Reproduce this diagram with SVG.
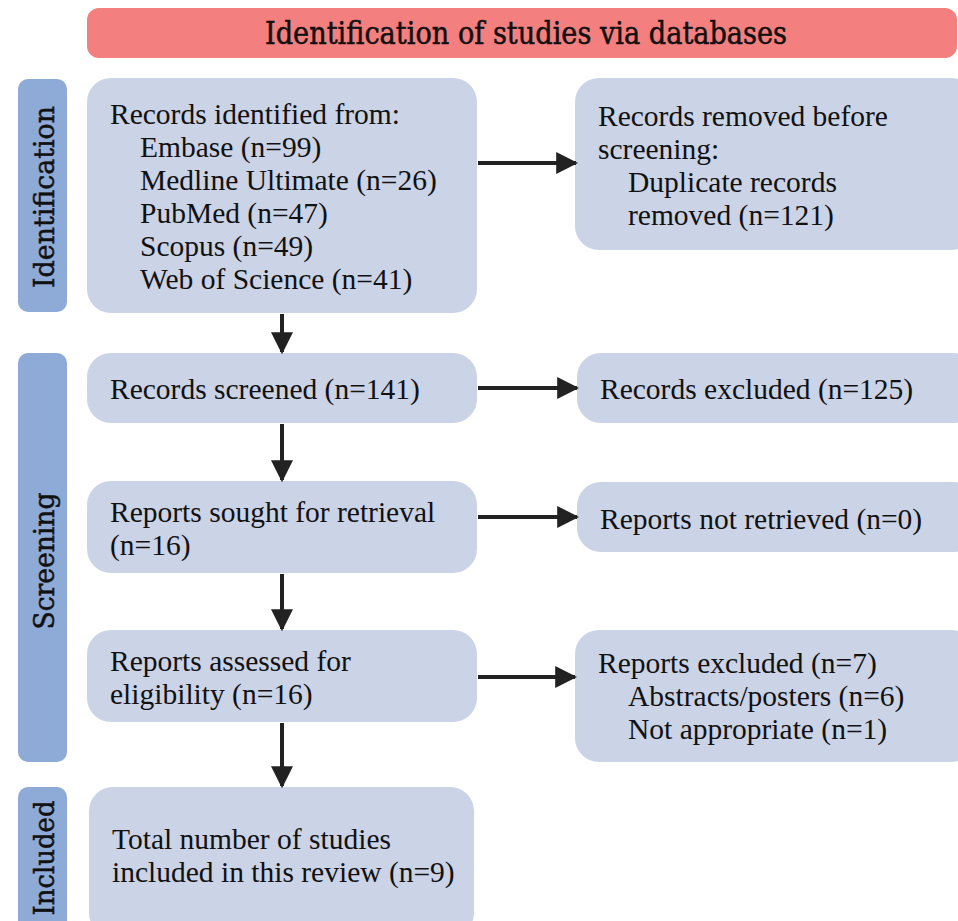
<svg xmlns="http://www.w3.org/2000/svg" width="958" height="921" viewBox="0 0 958 921">
<defs>
<style>
.box{fill:#cbd3e7}
.side{fill:#8eaad6}
.t{font-family:"Liberation Serif","Times New Roman",serif;font-size:29.5px;fill:#111}
.s{font-family:"DejaVu Serif",serif;font-size:27px;fill:#111;stroke:#111;stroke-width:0.5px}
.c{stroke:#222;stroke-width:4;fill:none;marker-end:url(#ah)}
</style>
<marker id="ah" viewBox="0 0 10 10" refX="9" refY="5" markerWidth="5.5" markerHeight="5.5" orient="auto" markerUnits="strokeWidth">
<path d="M0,0 L10,5 L0,10 z" fill="#222"/>
</marker>
</defs>
<rect width="958" height="921" fill="#fff"/>
<g id="header">
<rect x="87" y="8" width="870" height="50" rx="12" fill="#f47f7f"/>
<text x="526" y="44" text-anchor="middle" font-family="DejaVu Serif Condensed,DejaVu Serif,serif" font-stretch="condensed" font-size="31" textLength="522" lengthAdjust="spacingAndGlyphs" fill="#111" stroke="#111" stroke-width="0.5">Identification of studies via databases</text>
</g>
<g id="side-identification">
<rect class="side" x="18" y="79" width="49" height="233" rx="10"/>
<text class="s" transform="translate(54,197) rotate(-90)" text-anchor="middle" textLength="182" lengthAdjust="spacingAndGlyphs">Identification</text>
</g>
<g id="side-screening">
<rect class="side" x="18" y="353" width="49" height="409" rx="10"/>
<text class="s" transform="translate(54,561) rotate(-90)" text-anchor="middle" textLength="137" lengthAdjust="spacingAndGlyphs">Screening</text>
</g>
<g id="side-included">
<rect class="side" x="18" y="787" width="49" height="150" rx="10"/>
<text class="s" transform="translate(54,858) rotate(-90)" text-anchor="middle" textLength="115" lengthAdjust="spacingAndGlyphs">Included</text>
</g>
<g id="records-identified">
<rect class="box" x="87" y="78" width="390" height="235" rx="24"/>
<text class="t" x="110" y="124">Records identified from:</text>
<text class="t" x="140" y="157">Embase (n=99)</text>
<text class="t" x="140" y="190">Medline Ultimate (n=26)</text>
<text class="t" x="140" y="223">PubMed (n=47)</text>
<text class="t" x="140" y="256">Scopus (n=49)</text>
<text class="t" x="140" y="289">Web of Science (n=41)</text>
</g>
<g id="records-removed">
<rect class="box" x="575" y="78" width="400" height="172" rx="24"/>
<text class="t" x="598" y="126">Records removed before</text>
<text class="t" x="598" y="159">screening:</text>
<text class="t" x="628" y="192">Duplicate records</text>
<text class="t" x="628" y="225">removed (n=121)</text>
</g>
<g id="records-screened">
<rect class="box" x="87" y="353" width="390" height="70" rx="24"/>
<text class="t" x="110" y="399">Records screened (n=141)</text>
</g>
<g id="records-excluded">
<rect class="box" x="577" y="353" width="400" height="70" rx="24"/>
<text class="t" x="600" y="399">Records excluded (n=125)</text>
</g>
<g id="reports-sought">
<rect class="box" x="87" y="481" width="390" height="92" rx="24"/>
<text class="t" x="110" y="522">Reports sought for retrieval</text>
<text class="t" x="110" y="555">(n=16)</text>
</g>
<g id="reports-not-retrieved">
<rect class="box" x="577" y="482" width="400" height="70" rx="24"/>
<text class="t" x="600" y="529">Reports not retrieved (n=0)</text>
</g>
<g id="reports-assessed">
<rect class="box" x="87" y="630" width="390" height="92" rx="24"/>
<text class="t" x="110" y="671">Reports assessed for</text>
<text class="t" x="110" y="704">eligibility (n=16)</text>
</g>
<g id="reports-excluded">
<rect class="box" x="575" y="630" width="400" height="132" rx="24"/>
<text class="t" x="598" y="673">Reports excluded (n=7)</text>
<text class="t" x="628" y="706">Abstracts/posters (n=6)</text>
<text class="t" x="628" y="739">Not appropriate (n=1)</text>
</g>
<g id="included-studies">
<rect class="box" x="89" y="787" width="385" height="150" rx="24"/>
<text class="t" x="112" y="849">Total number of studies</text>
<text class="t" x="112" y="882">included in this review (n=9)</text>
</g>
<g id="connectors">
<path class="c" d="M478,163 H576"/>
<path class="c" d="M478,388 H577"/>
<path class="c" d="M478,517 H577"/>
<path class="c" d="M478,677 H575"/>
<path class="c" d="M282,314 V352"/>
<path class="c" d="M282,424 V480"/>
<path class="c" d="M282,574 V629"/>
<path class="c" d="M282,723 V786"/>
</g>
</svg>
